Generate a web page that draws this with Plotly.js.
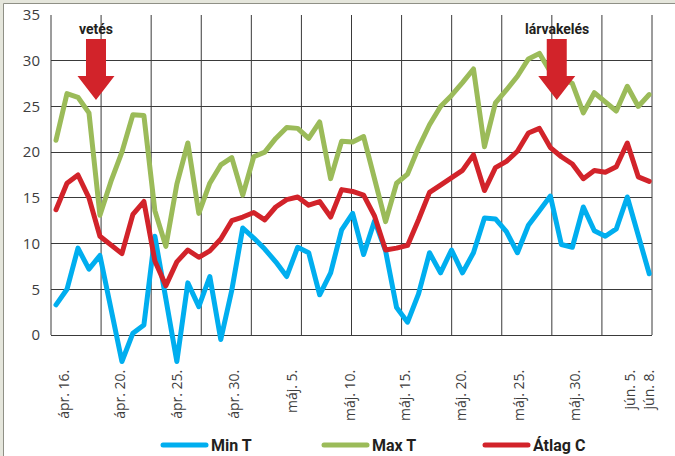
<!DOCTYPE html>
<html><head><meta charset="utf-8">
<script src="https://cdn.plot.ly/plotly-3.0.1.min.js"></script>
<style>html,body{margin:0;padding:0;background:#fff}#chart{width:675px;height:456px}
#chart path.js-line{stroke-linejoin:round;stroke-linecap:round}</style>
</head><body><div id="chart"></div>
<script>
// ---- data (daily values) ----
const seriesNames = ['Min T', 'Max T', 'Átlag C'];
const minT = [3.3,5.0,9.5,7.2,8.7,2.9,-2.9,0.2,1.1,10.8,4.1,-2.9,5.7,3.1,6.4,-0.5,4.9,11.7,10.6,9.4,8.0,6.4,9.6,9.0,4.4,6.8,11.5,13.3,8.8,12.5,9.2,3.0,1.4,4.5,9.0,6.8,9.3,6.8,9.0,12.8,12.7,11.3,9.0,12.0,13.6,15.2,9.9,9.6,14.0,11.4,10.8,11.6,15.1,11.0,6.7];
const maxT = [21.3,26.4,26.0,24.3,13.1,16.8,20.0,24.1,24.0,13.6,9.7,16.5,21.0,13.3,16.6,18.6,19.4,15.3,19.5,20.0,21.5,22.7,22.6,21.5,23.3,17.1,21.2,21.1,21.7,17.1,12.4,16.6,17.6,20.5,23.0,25.0,26.2,27.6,29.1,20.6,25.4,26.8,28.3,30.2,30.8,28.8,28.1,27.5,24.3,26.5,25.5,24.5,27.2,25.0,26.3];
const atlagC = [13.7,16.6,17.5,15.0,10.8,9.8,8.9,13.2,14.6,8.1,5.4,8.0,9.3,8.5,9.2,10.5,12.5,12.9,13.4,12.6,14.0,14.8,15.1,14.2,14.6,12.9,15.9,15.7,15.3,13.0,9.3,9.5,9.8,12.6,15.6,16.4,17.2,18.0,19.7,15.8,18.3,19.0,20.1,22.1,22.6,20.5,19.5,18.7,17.1,18.0,17.8,18.4,21.0,17.3,16.8];
const tickText = ['ápr. 16.','ápr. 20.','ápr. 25.','ápr. 30.','máj. 5.','máj. 10.','máj. 15.','máj. 20.','máj. 25.','máj. 30.','jún. 5.','jún. 8.'];
const tickPos = [0.73, 5.89, 11.05, 16.2, 21.5, 26.8, 31.8, 36.9, 42.2, 47.3, 52.3, 54.0];
const yTicks = [0, 5, 10, 15, 20, 25, 30, 35];
const eventLabels = ['vetés', 'lárvakelés'];
const eventPos = [3.64, 45.58];

// ---- layout geometry ----
const W = 675, H = 456, M = {l: 51, r: 23, t: 15, b: 90};
const PW = W - M.l - M.r, PH = H - M.t - M.b;
const px = p => (p - M.l) / PW;           // page px -> paper x
const py = p => (H - M.b - p) / PH;       // page px -> paper y
const xRange = [-0.455, 54.25], yRange = [-3.39, 35];
const xs = minT.map((_, i) => i);

const colors = ['#00aeef', '#9bbb59', '#d2232a'];
const values = [minT, maxT, atlagC];
const traces = values.map((v, k) => ({
  type: 'scatter', mode: 'lines', name: seriesNames[k], x: xs, y: v,
  line: {color: colors[k], width: 5}, hoverinfo: 'skip'
}));

const grid = '#3a3a3a';
const shapes = [
  {type: 'rect', xref: 'paper', yref: 'paper', x0: px(-5), x1: px(680), y0: py(460), y1: py(-5), fillcolor: '#e5e6dc', line: {width: 0}, layer: 'below'},
  {type: 'rect', xref: 'paper', yref: 'paper', x0: px(3.5), x1: px(690), y0: py(470), y1: py(3.5), fillcolor: '#ffffff', line: {color: '#8f9086', width: 1}, layer: 'below'}
];
for (let k = 0; k <= 12; k++) {
  shapes.push({type: 'line', xref: 'paper', yref: 'y', x0: k / 12, x1: k / 12, y0: 0, y1: 35, line: {color: grid, width: 1}, layer: 'below'});
}
// red arrows marking events (size in data units of the axes)
const sx = 10.986, sy = 9.143;
function arrowPath(xc) {
  const tip = 25.7, headTop = tip + 24 / sy, top = tip + 61 / sy;
  const hw = 18.5 / sx, sw = 10 / sx;
  return `M${xc},${tip} L${xc - hw},${headTop} L${xc - sw},${headTop} L${xc - sw},${top} L${xc + sw},${top} L${xc + sw},${headTop} L${xc + hw},${headTop} Z`;
}
eventPos.forEach(x => shapes.push({type: 'path', xref: 'x', yref: 'y', path: arrowPath(x), fillcolor: '#d2232a', line: {width: 0}, layer: 'above'}));

const annotations = eventLabels.map((t, i) => ({
  text: t, xref: 'x', yref: 'y', x: eventPos[i], y: 33.5, showarrow: false,
  xanchor: 'center', yanchor: 'middle',
  font: {family: 'Roboto', size: 14, weight: 700, color: '#231f20'}
}));

const tickFont = {family: 'Open Sans', color: '#3d3d3d'};
const layout = {
  width: W, height: H, margin: M,
  paper_bgcolor: '#ffffff', plot_bgcolor: 'rgba(0,0,0,0)',
  showlegend: true,
  legend: {
    orientation: 'h', xref: 'container', yref: 'container',
    x: 158 / W, y: 1 - 445 / H, xanchor: 'left', yanchor: 'middle',
    itemwidth: 43, entrywidthmode: 'pixels', entrywidth: 103,
    font: {family: 'Roboto', size: 16, weight: 700, color: '#231f20'},
    bgcolor: 'rgba(0,0,0,0)', borderwidth: 0
  },
  xaxis: {
    range: xRange, tickvals: tickPos, ticktext: tickText, tickangle: -90,
    showgrid: false, zeroline: false, showline: false, ticks: '',
    tickfont: Object.assign({size: 14}, tickFont), fixedrange: true
  },
  yaxis: {
    range: yRange, tickvals: yTicks, showgrid: true, gridcolor: grid, gridwidth: 1,
    zeroline: false, showline: false, ticks: '', ticklabelstandoff: 10,
    tickfont: Object.assign({size: 15}, tickFont), fixedrange: true
  },
  shapes: shapes, annotations: annotations, hovermode: false
};
Plotly.newPlot('chart', traces, layout, {displayModeBar: false, staticPlot: true});
</script>
</body></html>
